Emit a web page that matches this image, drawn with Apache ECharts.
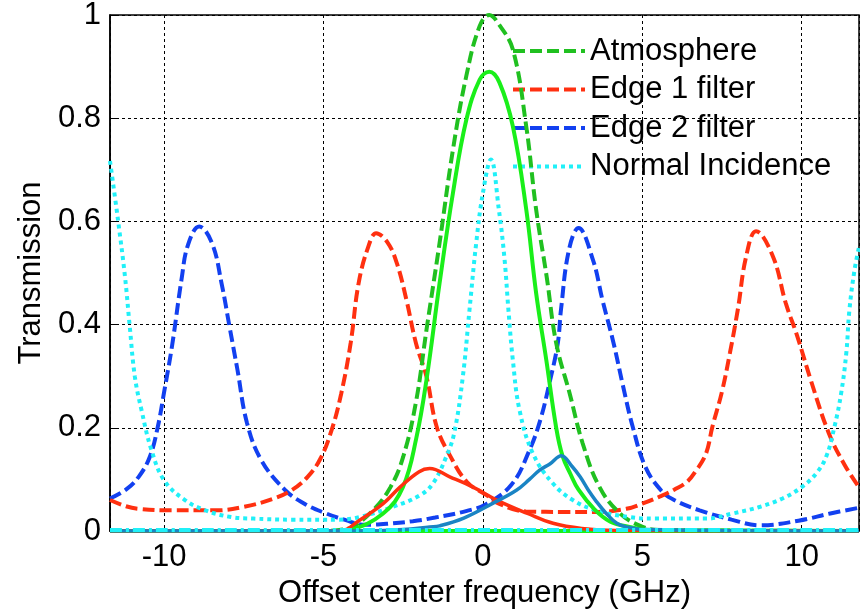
<!DOCTYPE html>
<html>
<head>
<meta charset="utf-8">
<script src="https://cdn.jsdelivr.net/npm/echarts@6/dist/echarts.min.js"></script>
<style>
  html, body { margin: 0; padding: 0; background: #fff; }
  #chart { width: 860px; height: 610px; }
</style>
</head>
<body>
<div id="chart"></div>
<script>
  // values (x in GHz, y = transmission)
  const edge2X = [-11.7, -11.2, -10.8, -10.45, -10.2, -10, -9.75, -9.45, -9.25, -8.9, -8.5, -8.2, -7.95, -7.7, -7.4, -6.95, -6.2, -5.6, -5, -4.3, -3.7, -3, -2.2, -1.5, -0.5, 0.1, 0.9, 1.45, 1.8, 2.1, 2.35, 2.45, 2.7, 3.0, 3.45, 3.75, 4.1, 4.4, 4.7, 5.1, 5.6, 6.0, 6.8, 7.8, 8.7, 9.9, 10.9, 11.8];
  const edge2Y = [0.063, 0.08, 0.105, 0.144, 0.202, 0.27, 0.36, 0.49, 0.555, 0.59, 0.558, 0.48, 0.396, 0.312, 0.209, 0.137, 0.079, 0.053, 0.036, 0.021, 0.012, 0.014, 0.019, 0.026, 0.039, 0.052, 0.09, 0.155, 0.215, 0.29, 0.364, 0.429, 0.545, 0.587, 0.526, 0.448, 0.364, 0.28, 0.202, 0.124, 0.078, 0.06, 0.04, 0.022, 0.011, 0.02, 0.034, 0.045];

  const edge1X = [-11.7, -11.2, -10.8, -9.8, -8.4, -7.5, -6.6, -6.0, -5.5, -5.1, -4.75, -4.45, -4.15, -3.9, -3.6, -3.35, -3.0, -2.7, -2.4, -2.1, -1.77, -1.45, -1.04, -0.5, 0.1, 0.5, 1.35, 2.6, 3.6, 4.5, 5.0, 5.6, 6.0, 6.4, 6.7, 7.0, 7.2, 7.5, 7.75, 8.0, 8.26, 8.57, 9.1, 9.5, 9.85, 10.3, 10.85, 11.35, 11.8];
  const edge1Y = [0.06, 0.048, 0.043, 0.04, 0.04, 0.047, 0.062, 0.079, 0.105, 0.14, 0.195, 0.265, 0.364, 0.48, 0.55, 0.577, 0.56, 0.519, 0.448, 0.364, 0.299, 0.202, 0.147, 0.095, 0.07, 0.053, 0.038, 0.037, 0.037, 0.043, 0.053, 0.068, 0.08, 0.095, 0.118, 0.15, 0.202, 0.27, 0.345, 0.43, 0.532, 0.581, 0.532, 0.442, 0.38, 0.29, 0.19, 0.128, 0.085];

  const atmosX = [-11.7, -5, -4.5, -4.1, -3.45, -2.9, -2.5, -2.1, -1.77, -1.36, -0.94, -0.52, -0.1, 0.2, 0.5, 0.94, 1.36, 1.67, 2.0, 2.3, 2.72, 3.13, 3.66, 4.3, 4.9, 5.5, 11.8];
  const atmosY = [0, 0, 0.002, 0.008, 0.04, 0.085, 0.144, 0.25, 0.39, 0.558, 0.739, 0.882, 0.979, 1.0, 0.982, 0.933, 0.784, 0.623, 0.493, 0.364, 0.267, 0.17, 0.085, 0.034, 0.011, 0.002, 0];

  const greenX = [-11.7, -4.5, -4.18, -3.13, -2.51, -2.09, -1.77, -1.36, -0.94, -0.52, -0.1, 0.2, 0.52, 0.94, 1.36, 1.67, 1.99, 2.3, 2.5, 2.75, 3.0, 3.5, 4.0, 4.6, 5.3, 11.8];
  const greenY = [0, 0, 0.002, 0.034, 0.085, 0.18, 0.293, 0.48, 0.655, 0.797, 0.875, 0.89, 0.869, 0.784, 0.623, 0.461, 0.331, 0.2, 0.145, 0.11, 0.08, 0.042, 0.018, 0.008, 0.002, 0];

  const normalX = [-11.7, -11.45, -11.23, -11.08, -10.92, -10.71, -10.4, -10, -9.35, -8.7, -7.9, -7.2, -6, -4.5, -3.87, -2.82, -1.98, -1.57, -1.15, -0.9, -0.63, -0.42, -0.21, 0, 0.25, 0.5, 0.68, 0.8, 0.94, 1.15, 1.57, 2.2, 2.82, 3.55, 4.6, 5.4, 7.0, 7.84, 8.7, 9.4, 10.0, 10.45, 10.77, 11.03, 11.24, 11.4, 11.5, 11.66, 11.8];
  const normalY = [0.717, 0.603, 0.493, 0.396, 0.299, 0.234, 0.157, 0.098, 0.06, 0.04, 0.027, 0.024, 0.022, 0.022, 0.027, 0.047, 0.069, 0.092, 0.144, 0.19, 0.299, 0.429, 0.558, 0.655, 0.72, 0.623, 0.526, 0.429, 0.331, 0.234, 0.15, 0.092, 0.06, 0.04, 0.027, 0.024, 0.024, 0.034, 0.047, 0.063, 0.085, 0.111, 0.144, 0.202, 0.267, 0.344, 0.429, 0.506, 0.55];

  const redX = [-11.7, -4.5, -3.87, -3.13, -2.6, -2.0, -1.67, -1.04, -0.31, 0.5, 1.4, 2.2, 3.1, 4.2, 11.8];
  const redY = [0, 0, 0.021, 0.053, 0.085, 0.115, 0.121, 0.105, 0.085, 0.058, 0.034, 0.015, 0.005, 0.001, 0];

  const steelX = [-11.7, -4, -2.5, -1.67, -1.36, -0.6, 0.35, 1.05, 1.46, 1.78, 2.1, 2.46, 2.8, 3.05, 3.3, 3.55, 3.87, 4.2, 4.5, 5.0, 11.8];
  const steelY = [0, 0, 0.003, 0.008, 0.01, 0.025, 0.055, 0.079, 0.1, 0.118, 0.13, 0.146, 0.125, 0.105, 0.08, 0.058, 0.034, 0.015, 0.008, 0.003, 0];

  const zeroX = [-11.7, 11.8];
  const zeroY = [0.002, 0.002];

  const yTicks = [0, 0.2, 0.4, 0.6, 0.8, 1];

  const pts = (xs, ys) => xs.map((x, i) => [x, ys[i]]);
  const FONT = "Liberation Sans";

  const chart = echarts.init(document.getElementById("chart"), null, { renderer: "canvas" });

  const line = (name, xs, ys, color, width, type, z) => ({
    name: name,
    type: "line",
    data: pts(xs, ys),
    smooth: 0.4,
    symbol: "none",
    z: z,
    lineStyle: { color: color, width: width, type: type },
    itemStyle: { color: color },
    emphasis: { disabled: true },
    animation: false,
  });

  const option = {
    backgroundColor: "#fff",
    animation: false,
    grid: {
      left: 110,
      right: 1,
      top: 15,
      bottom: 79,
      outerBoundsMode: "none",
      show: true,
      borderColor: "#000",
      borderWidth: 1.5,
    },
    legend: {
      data: ["Atmosphere", "Edge 1 filter", "Edge 2 filter", "Normal Incidence"],
      orient: "vertical",
      left: 506,
      top: 30,
      itemWidth: 72,
      itemHeight: 2,
      itemGap: 6.5,
      itemStyle: { opacity: 0 },
      lineStyle: { width: 4 },
      textStyle: {
        fontFamily: FONT,
        fontSize: 31,
        lineHeight: 32,
        color: "#000",
        padding: [0, 0, 0, 0],
      },
    },
    xAxis: {
      type: "value",
      min: -11.7,
      max: 11.8,
      splitNumber: 5,
      name: "Offset center frequency (GHz)",
      nameLocation: "middle",
      nameGap: 47,
      nameTextStyle: { fontFamily: FONT, fontSize: 31, color: "#000" },
      axisLine: { onZero: false, lineStyle: { color: "#000", width: 1.5 } },
      axisTick: { inside: true, length: 6, lineStyle: { color: "#000" } },
      axisLabel: {
        fontFamily: FONT,
        fontSize: 31,
        color: "#000",
        margin: 11,
        formatter: (v) => (Math.abs(v % 5) < 1e-9 ? String(v) : ""),
      },
      splitLine: { show: true, lineStyle: { color: "#000", width: 1, type: [3, 3] } },
    },
    yAxis: {
      type: "value",
      min: yTicks[0],
      max: yTicks[yTicks.length - 1],
      interval: 0.2,
      name: "Transmission",
      nameLocation: "middle",
      nameGap: 60,
      nameTextStyle: { fontFamily: FONT, fontSize: 31, color: "#000" },
      axisLine: { show: true, onZero: false, lineStyle: { color: "#000", width: 1.5 } },
      axisTick: { show: true, inside: true, length: 6, lineStyle: { color: "#000" } },
      axisLabel: { fontFamily: FONT, fontSize: 31, color: "#000", margin: 9 },
      splitLine: { show: true, lineStyle: { color: "#000", width: 1, type: [3, 3] } },
    },
    series: [
      line("zero-solid", zeroX, [0, 0], "#1aef1a", 4, "solid", 2),
      line("Edge 2 filter", edge2X, edge2Y, "#1240f0", 4, [12, 5], 3),
      line("Edge 1 filter", edge1X, edge1Y, "#ff3010", 4, [12, 5], 3),
      line("Atmosphere", atmosX, atmosY, "#20c020", 4, [12, 5], 4),
      line("Normal Incidence", normalX, normalY, "#20f0f8", 4, [4, 4], 4),
      line("atm-solid", greenX, greenY, "#1aef1a", 4, "solid", 5),
      line("edge1-solid", redX, redY, "#ff3010", 3.5, "solid", 5),
      line("edge2-solid", steelX, steelY, "#1a84c4", 3.5, "solid", 5),
      line("normal-zero", zeroX, zeroY, "#20f0f8", 4, [12, 4, 3, 4], 6),
    ],
  };

  chart.setOption(option);
</script>
</body>
</html>
